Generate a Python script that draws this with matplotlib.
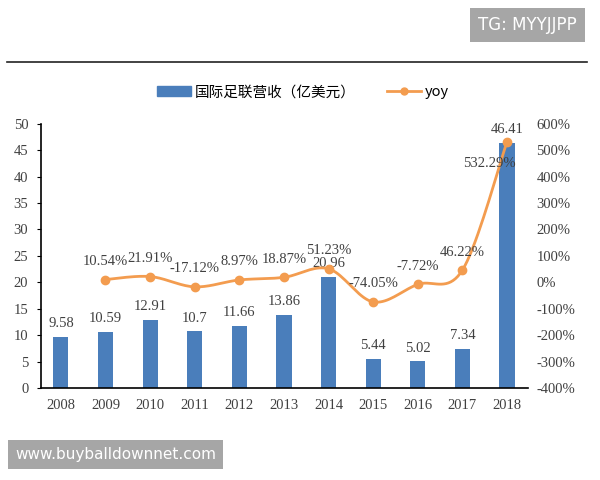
import numpy as np
import matplotlib.pyplot as plt
from matplotlib.lines import Line2D
from matplotlib.patches import Patch

plt.rcParams['font.family'] = ['Liberation Serif', 'Noto Sans CJK SC', 'DejaVu Sans']

# Data
years = ['2008', '2009', '2010', '2011', '2012', '2013', '2014', '2015', '2016', '2017', '2018']
revenue = [9.58, 10.59, 12.91, 10.7, 11.66, 13.86, 20.96, 5.44, 5.02, 7.34, 46.41]
yoy = [10.54, 21.91, -17.12, 8.97, 18.87, 51.23, -74.05, -7.72, 46.22, 532.29]  # 2009-2018
bar_labels = ['9.58', '10.59', '12.91', '10.7', '11.66', '13.86', '20.96', '5.44', '5.02', '7.34', '46.41']
yoy_labels = ['10.54%', '21.91%', '-17.12%', '8.97%', '18.87%', '51.23%', '-74.05%', '-7.72%', '46.22%', '532.29%']

bar_color = '#4a7ebb'
line_color = '#f39c4f'
text_color = '#404040'


# Smooth line like Excel (Catmull-Rom)
def smooth(xs, ys, n=20):
    xs = np.asarray(xs, float)
    ys = np.asarray(ys, float)
    px = np.concatenate([[xs[0]], xs, [xs[-1]]])
    py = np.concatenate([[ys[0]], ys, [ys[-1]]])
    t = np.linspace(0, 1, n)
    ox, oy = [], []
    for i in range(1, len(px) - 2):
        for p, out in ((px, ox), (py, oy)):
            p0, p1, p2, p3 = p[i - 1], p[i], p[i + 1], p[i + 2]
            out.extend(0.5 * (2 * p1 + (-p0 + p2) * t + (2 * p0 - 5 * p1 + 4 * p2 - p3) * t ** 2
                              + (-p0 + 3 * p1 - 3 * p2 + p3) * t ** 3))
    return np.array(ox), np.array(oy)


fig = plt.figure(figsize=(6, 4.8), dpi=100)
ax = fig.add_axes([0.068, 0.1917, 0.812, 0.5503])
ax2 = ax.twinx()

x = np.arange(len(years))
ax.bar(x, revenue, width=0.34, color=bar_color, zorder=2)
for xi, v, s in zip(x, revenue, bar_labels):
    ax.annotate(s, (xi, v), xytext=(0, 5), textcoords='offset points', ha='center', va='bottom',
                fontsize=10.5, color=text_color)

xl = x[1:]
sx, sy = smooth(xl, yoy)
ax2.plot(sx, sy, color=line_color, lw=2, zorder=3)
ax2.plot(xl, yoy, 'o', color=line_color, ms=6, zorder=4)
for i, (xi, v, s) in enumerate(zip(xl, yoy, yoy_labels)):
    if i == len(yoy) - 1:
        off = (-13, -16)
    else:
        off = (0, 13)
    ax2.annotate(s, (xi, v), xytext=off, textcoords='offset points', ha='center', va='center',
                 fontsize=10.5, color=text_color, zorder=5)

ax.set_xlim(-0.45, 10.47)
ax.set_ylim(0, 50)
ax.set_yticks(range(0, 51, 5))
ax2.set_ylim(-400, 600)
ax2.set_yticks(range(-400, 601, 100))
ax2.set_yticklabels([f'{v}%' for v in range(-400, 601, 100)])
ax.set_xticks(x)
ax.set_xticklabels(years)

for a in (ax, ax2):
    for side in ('top', 'right'):
        a.spines[side].set_visible(False)
    a.tick_params(labelsize=10.5, colors=text_color)
ax2.spines['left'].set_visible(False)
ax2.spines['bottom'].set_visible(False)
for side in ('left', 'bottom'):
    ax.spines[side].set_color('black')
    ax.spines[side].set_linewidth(1.2)
ax.tick_params(axis='x', length=0, pad=8)
ax.tick_params(axis='y', length=3, color='black', pad=6)
ax2.tick_params(axis='y', length=0, pad=6)

# legend
handles = [Patch(color=bar_color), Line2D([0], [0], color=line_color, lw=2, marker='o', ms=5)]
fig.legend(handles, ['国际足联营收（亿美元）', 'yoy'], loc='center', bbox_to_anchor=(0.505, 0.808),
           ncol=2, frameon=False, handlelength=2.3, handleheight=0.6, handletextpad=0.25,
           columnspacing=2.2, prop={'family': ['Noto Sans CJK SC', 'DejaVu Sans'], 'size': 10.5})

# rule line at top
fig.add_artist(Line2D([0.012, 0.978], [0.871, 0.871], color='#222222', lw=1.2))

# watermarks
fig.text(0.879, 0.948, 'TG: MYYJJPP', ha='center', va='center', fontsize=12, color='white',
         family='DejaVu Sans',
         bbox=dict(boxstyle='square,pad=0.5', facecolor='#a6a6a6', edgecolor='none'))
fig.text(0.193, 0.053, 'www.buyballdownnet.com', ha='center', va='center', fontsize=11, color='white',
         family='DejaVu Sans',
         bbox=dict(boxstyle='square,pad=0.45', facecolor='#a6a6a6', edgecolor='none'))

fig.savefig('out.png', dpi=100)
